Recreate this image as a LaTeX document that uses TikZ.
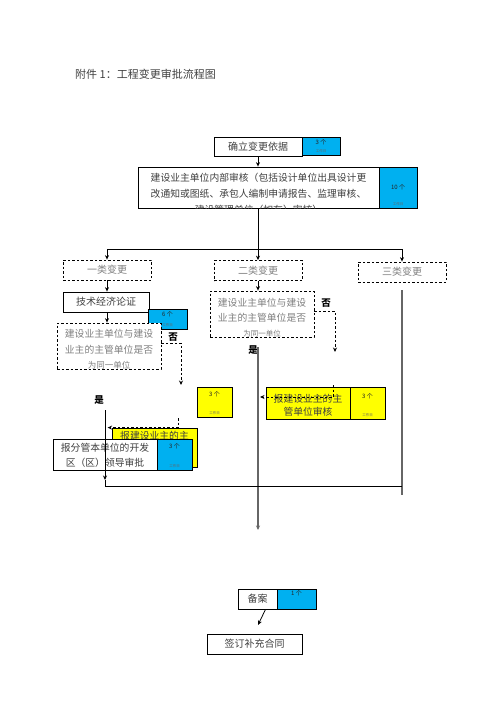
\documentclass[tikz,border=0pt]{standalone}
\usepackage{fontspec}
\setmainfont{Noto Sans CJK SC}
\usetikzlibrary{arrows.meta}
\definecolor{dayblue}{RGB}{0,176,240}
\definecolor{dayyellow}{RGB}{255,255,0}
\newcommand\fs[2]{\fontsize{#1}{#2}\selectfont}

\begin{document}
\begin{tikzpicture}[x=1pt,y=-1pt,every node/.style={inner sep=0pt},
    box/.style={draw,fill=white,line width=0.8pt,text=black!75,font=\fs{10}{12}},
    dbox/.style={box,dash pattern=on 2.5pt off 2pt,text=black!50},
    boxtext/.style={anchor=north,align=center,text=black!75,font=\fs{9.8}{#1}},
    dboxtext/.style={boxtext=#1,text=black!50},
    days/.style n args={4}{draw,line width=0.8pt,fill=#1,
        label={[anchor=north,yshift=#2,text=black!85,font=\fs{6}{7}]north:#3},
        label={[anchor=south,yshift=2pt,text=black!60,font=\fs{3.5}{4}]south:#4}},
    link/.style={line width=0.8pt,-{Stealth[length=4.5pt,width=4pt]}},
    dlink/.style={link,dash pattern=on 2.5pt off 2pt},
    trunk/.style={line width=1.2pt,draw=black!60},
    yesno/.style={font=\bfseries\fs{9.5}{10}}]
\useasboundingbox (0,0) rectangle (496,702);
\node[anchor=west,text=black!75,font=\fs{11}{12}] (title) at (75,74) {附件 1：工程变更审批流程图};

% basis and internal audit
\node[box,minimum width=88pt,minimum height=19pt] (basis) at (258,146.5) {确立变更依据};
\node[days={dayblue}{-3pt}{3 个}{工作日},minimum width=38pt,minimum height=18pt] (basisdays) at (321,146) {};
\node[box,minimum width=241pt,minimum height=41pt] (audit) at (258.5,187.5) {};
\begin{scope}
    \clip (audit.north west) rectangle (audit.south east);
    \node[boxtext=16] (audittext) at ([yshift=-6pt]audit.north) {建设业主单位内部审核（包括设计单位出具设计更\\改通知或图纸、承包人编制申请报告、监理审核、\\建设管理单位（如有）审核）};
\end{scope}
\node[days={dayblue}{-18pt}{10 个}{工作日},minimum width=38pt,minimum height=41pt] (auditdays) at (398,187.5) {};
\draw[link] (basis.south) -- (basis.south |- audit.north);

% three classes
\coordinate (split) at (258,249);
\node[dbox,minimum width=88pt,minimum height=20pt] (c1) at (107,270) {一类变更};
\node[dbox,minimum width=88pt,minimum height=20pt] (c2) at (258,270.5) {二类变更};
\node[dbox,minimum width=88pt,minimum height=20pt] (c3) at (402,272) {三类变更};
\draw[line width=0.8pt] (audit.south -| split) -- (split);
\draw[line width=0.8pt] (c1.north |- split) -- (c3.north |- split);
\foreach \c in {c1,c2,c3}
    \draw[link] (\c.north |- split) -- (\c.north);

% first class
\node[box,minimum width=86pt,minimum height=20pt] (tech) at (106,302) {技术经济论证};
\node[days={dayblue}{-3pt}{6 个}{工作日},minimum width=39pt,minimum height=20pt] (techdays) at (167.5,319) {};
\node[dbox,minimum width=104pt,minimum height=46pt] (check1) at (109,346) {};
\begin{scope}
    \clip (check1.north west) rectangle (check1.south east);
    \node[dboxtext=16] (check1text) at ([yshift=-6pt]check1.north) {建设业主单位与建设\\业主的主管单位是否\\[-1pt]{\fs{8.5}{9}为同一单位}};
\end{scope}
\draw[link] (c1.south) -- (c1.south |- tech.north);
\draw[link] (c1.south |- tech.south) -- (c1.south |- check1.north);

% second class
\node[dbox,minimum width=104pt,minimum height=46pt] (check2) at (262,314) {};
\begin{scope}
    \clip (check2.north west) rectangle (check2.south east);
    \node[dboxtext=15] (check2text) at ([yshift=-7pt]check2.north) {建设业主单位与建设\\业主的主管单位是否\\{\fs{7.5}{8}为同一单位}};
\end{scope}
\draw[link] (c2.south) -- (c2.south |- check2.north);

\node[yesno] (no1) at (173,337) {否};
\node[yesno] (no2) at (326,303) {否};
\node[yesno] (yes1) at (99,400) {是};
\node[yesno] (yes2) at (253,350) {是};
\coordinate (drop1) at (181,385);
\coordinate (drop2) at (335,352);
\draw[dlink] (check1.east |- 0,343) -| (drop1);
\draw[dlink] (check2.east |- 0,311) -| (drop2);

% trunks
\coordinate (foot2) at (258,347);
\coordinate (mid) at (258,530);
\coordinate (foot3) at (402,290);
\coordinate (end3) at (402,495);
\draw[link,trunk] (foot2) -- (mid);
\draw[trunk] (foot3) -- (end3);

% reports
\node[box,fill=dayyellow,minimum width=85pt,minimum height=39pt] (report1) at (154.5,447.5) {};
\begin{scope}
    \clip (report1.north west) rectangle (report1.south east);
    \node[boxtext=14] (report1text) at ([yshift=-3pt]report1.north) {报建设业主的主};
\end{scope}
\node[days={dayyellow}{-5pt}{3 个}{工作日},minimum width=35pt,minimum height=30pt] (report1days) at (214.5,402) {};
\node[box,fill=dayyellow,minimum width=84pt,minimum height=32pt] (report2) at (308,403) {};
\begin{scope}
    \clip (report2.north west) rectangle (report2.south east);
    \node[boxtext=13] (report2text) at ([yshift=-7pt]report2.north) {报建设业主的主\\管单位审核};
\end{scope}
\node[days={dayyellow}{-7pt}{3 个}{工作日},minimum width=35pt,minimum height=32pt] (report2days) at (367.5,403) {};
\node[box,minimum width=104pt,minimum height=31pt] (approve) at (105,454.5) {};
\begin{scope}
    \clip (approve.north west) rectangle (approve.south east);
    \node[boxtext=15] (approvetext) at ([yshift=-4pt]approve.north) {报分管本单位的开发\\区（区）领导审批};
\end{scope}
\node[days={dayblue}{-5pt}{3 个}{工作日},minimum width=35pt,minimum height=31pt] (approvedays) at (174.5,454.5) {};

\coordinate (back1) at (178,418);
\coordinate (back2) at (333,385);
\coordinate (hit2) at (260,397);
\draw[dlink] (back1) |- ([xshift=-4pt]report1.north west);
\draw[dlink] (back2) |- (hit2);

\coordinate (foot1) at (105,410);
\coordinate (join) at (105,480);
\draw[link] (foot1) -- (join);
\draw[line width=0.8pt] (join) |- (end3 |- 0,486);

% filing and contract
\node[box,minimum width=39pt,minimum height=20pt] (record) at (257.5,599) {备案};
\node[days={dayblue}{-2pt}{1 个}{},minimum width=39pt,minimum height=20pt] (recorddays) at (296.5,599) {};
\node[box,minimum width=95pt,minimum height=20pt] (sign) at (254.5,644) {签订补充合同};
\coordinate (signtip) at (258,625);
\draw[link] ([xshift=8pt]record.south) -- (signtip);
\end{tikzpicture}
\end{document}
